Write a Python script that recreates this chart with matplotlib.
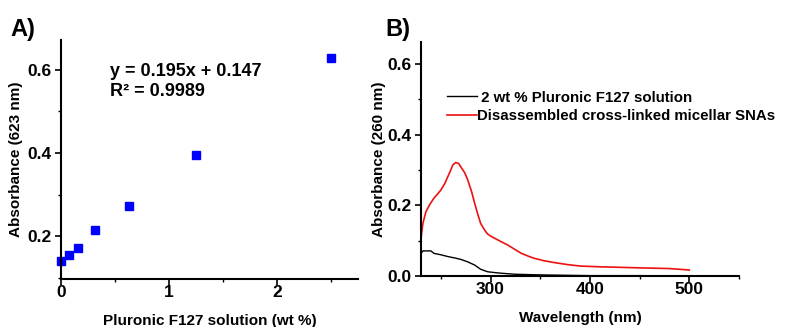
import numpy as np
import matplotlib.pyplot as plt
from matplotlib.ticker import MultipleLocator

plt.rcParams['font.family'] = ['Liberation Sans', 'DejaVu Sans']
plt.rcParams['font.weight'] = 'bold'

# panel A: calibration points
conc_wt = [0.0, 0.078, 0.156, 0.3125, 0.625, 1.25, 2.5]
abs_623 = [0.140, 0.154, 0.171, 0.214, 0.272, 0.396, 0.629]

# panel B: UV-vis spectra
wl_red = [230, 232, 235, 239, 243, 250, 254, 257, 260, 262, 265, 268, 270, 274, 277,
          281, 284, 287, 290, 294, 297, 300, 304, 310, 317, 324, 331, 338, 344, 354,
          364, 378, 391, 410, 424, 450, 480, 500]
abs_red = [0.105, 0.150, 0.182, 0.203, 0.220, 0.243, 0.262, 0.281, 0.300, 0.314, 0.321,
           0.318, 0.309, 0.292, 0.272, 0.238, 0.206, 0.176, 0.149, 0.130, 0.119, 0.113,
           0.107, 0.098, 0.088, 0.076, 0.064, 0.056, 0.050, 0.043, 0.038, 0.032, 0.028,
           0.026, 0.025, 0.023, 0.021, 0.017]
wl_blk = [230, 232, 235, 240, 243, 250, 257, 264, 270, 277, 284, 287, 290, 294, 297,
          303, 310, 324, 351, 400, 450, 500]
abs_blk = [0.064, 0.071, 0.071, 0.071, 0.064, 0.060, 0.055, 0.051, 0.047, 0.040, 0.031,
           0.025, 0.019, 0.015, 0.012, 0.010, 0.008, 0.005, 0.003, 0.001, 0.001, 0.000]

fig = plt.figure(figsize=(7.86, 3.27), dpi=100)
axA = fig.add_axes([0.0776, 0.1468, 0.3779, 0.7309])
axB = fig.add_axes([0.5356, 0.156, 0.4046, 0.7156])

for ax in (axA, axB):
    ax.spines['top'].set_visible(False)
    ax.spines['right'].set_visible(False)
    ax.spines['left'].set_linewidth(1.5)
    ax.spines['bottom'].set_linewidth(1.5)
    ax.tick_params(which='major', direction='out', length=4, width=1.2, labelsize=12.5, pad=3)
    ax.tick_params(which='minor', direction='out', length=2.5, width=1.0)
    ax.tick_params(axis='x', which='major', pad=0.5)

# --- A ---
axA.plot(conc_wt, abs_623, 's', color='#0000ff', markersize=5.5, clip_on=False)
axA.set_xlim(0, 2.75)
axA.set_ylim(0.097, 0.672)
axA.xaxis.set_major_locator(MultipleLocator(1))
axA.xaxis.set_minor_locator(MultipleLocator(0.5))
axA.yaxis.set_major_locator(MultipleLocator(0.2))
axA.yaxis.set_minor_locator(MultipleLocator(0.1))
axA.set_xlabel('Pluronic F127 solution (wt %)', fontsize=11, fontweight='bold', labelpad=10)
axA.set_ylabel('Absorbance (623 nm)', fontsize=11, fontweight='bold', labelpad=3)
axA.text(0.165, 0.905, 'y = 0.195x + 0.147\nR² = 0.9989', transform=axA.transAxes,
         fontsize=13, fontweight='bold', va='top', linespacing=1.25)
fig.text(0.013, 0.89, 'A)', fontsize=17, fontweight='bold')

# --- B ---
axB.plot(wl_blk, abs_blk, color='black', lw=1.0,
         label=' 2 wt % Pluronic F127 solution')
axB.plot(wl_red, abs_red, color='#ee1111', lw=1.2,
         label='Disassembled cross-linked micellar SNAs')
axB.set_xlim(230, 550)
axB.set_ylim(0, 0.662)
axB.xaxis.set_major_locator(MultipleLocator(100))
axB.xaxis.set_minor_locator(MultipleLocator(50))
axB.yaxis.set_major_locator(MultipleLocator(0.2))
axB.yaxis.set_minor_locator(MultipleLocator(0.1))
axB.set_xlabel('Wavelength (nm)', fontsize=11, fontweight='bold', labelpad=10)
axB.set_ylabel('Absorbance (260 nm)', fontsize=11, fontweight='bold', labelpad=1)
axB.legend(loc='upper left', bbox_to_anchor=(0.04, 0.85), frameon=False,
           fontsize=10.8, handlelength=2.0, handletextpad=0.0, labelspacing=0.3)
fig.text(0.49, 0.89, 'B)', fontsize=17, fontweight='bold')

fig.savefig('out.png', dpi=100)
